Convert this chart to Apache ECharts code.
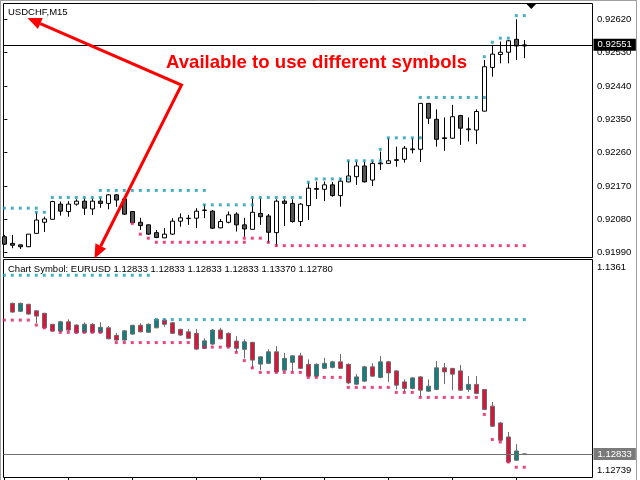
<!DOCTYPE html>
<html><head><meta charset="utf-8">
<script src="https://cdn.jsdelivr.net/npm/echarts@6/dist/echarts.min.js"></script>
<style>html,body{margin:0;padding:0;background:#fff}#c{width:640px;height:480px}</style>
</head><body><div id="c"></div>
<script>
// ---------- DATA ----------
const chfTitle = 'USDCHF,M15';
const annotationText = 'Available to use different symbols';
const eurHeader = 'Chart Symbol: EURUSD 1.12833 1.12833 1.12833 1.12833 1.13370 1.12780';

const chfOpen = [0.92033,0.92015,0.92011,0.92006,0.92042,0.92072,0.92080,0.92121,0.92101,0.92121,
0.92129,0.92108,0.92129,0.92123,0.92146,0.92135,0.92101,0.92072,0.92065,0.92044,
0.92030,0.92040,0.92075,0.92082,0.92083,0.92104,0.92102,0.92057,0.92072,0.92094,
0.92065,0.92053,0.92096,0.92089,0.92044,0.92129,0.92123,0.92074,0.92117,0.92163,
0.92161,0.92173,0.92144,0.92181,0.92195,0.92224,0.92186,0.92230,0.92231,0.92239,
0.92242,0.92268,0.92269,0.92393,0.92350,0.92300,0.92299,0.92360,0.92322,0.92321,
0.92372,0.92490,0.92525,0.92531,0.92566,0.92548];
const chfClose = [0.92013,0.92010,0.92006,0.92040,0.92078,0.92081,0.92128,0.92102,0.92121,0.92129,
0.92110,0.92129,0.92123,0.92146,0.92132,0.92094,0.92071,0.92063,0.92040,0.92031,
0.92040,0.92075,0.92084,0.92083,0.92102,0.92105,0.92056,0.92074,0.92092,0.92065,
0.92054,0.92099,0.92087,0.92045,0.92129,0.92123,0.92074,0.92121,0.92164,0.92161,
0.92173,0.92144,0.92183,0.92197,0.92224,0.92181,0.92231,0.92232,0.92238,0.92241,
0.92272,0.92270,0.92393,0.92353,0.92296,0.92298,0.92357,0.92326,0.92324,0.92371,
0.92492,0.92526,0.92531,0.92562,0.92548,0.92551];
const chfLow = [0.92011,0.92002,0.92000,0.92005,0.92041,0.92046,0.92079,0.92090,0.92087,0.92117,
0.92092,0.92092,0.92111,0.92107,0.92114,0.92092,0.92070,0.92051,0.92038,0.92029,
0.92029,0.92038,0.92060,0.92065,0.92056,0.92083,0.92054,0.92056,0.92069,0.92047,
0.92033,0.92052,0.92065,0.92016,0.92008,0.92062,0.92071,0.92062,0.92078,0.92135,
0.92129,0.92141,0.92114,0.92180,0.92173,0.92180,0.92170,0.92213,0.92230,0.92222,
0.92233,0.92258,0.92235,0.92337,0.92276,0.92265,0.92298,0.92281,0.92290,0.92283,
0.92371,0.92465,0.92501,0.92501,0.92510,0.92515];
const chfHigh = [0.92038,0.92038,0.92012,0.92040,0.92099,0.92087,0.92130,0.92128,0.92129,0.92134,
0.92137,0.92137,0.92138,0.92148,0.92148,0.92136,0.92102,0.92084,0.92066,0.92051,
0.92056,0.92083,0.92096,0.92092,0.92110,0.92121,0.92105,0.92081,0.92101,0.92099,
0.92084,0.92137,0.92137,0.92094,0.92134,0.92134,0.92134,0.92124,0.92179,0.92182,
0.92182,0.92181,0.92191,0.92238,0.92236,0.92236,0.92238,0.92263,0.92299,0.92276,
0.92278,0.92299,0.92394,0.92394,0.92377,0.92355,0.92389,0.92362,0.92355,0.92377,
0.92510,0.92551,0.92560,0.92564,0.92620,0.92564];
const chfLast = 0.92551;
// level segments: [first bar, last bar, price]
const chfHighLevels = [[0,4,0.92110],[4,5,0.92099],[6,12,0.92139],[12,25,0.92158],[25,31,0.92119],
[31,37,0.92139],[38,38,0.92180],[39,43,0.92189],[43,47,0.92238],[47,47,0.92269],[48,52,0.92300],
[52,60,0.92409],[60,60,0.92519],[61,61,0.92558],[62,63,0.92569],[64,65,0.92630]];
const chfLowLevels = [[16,16,0.92069],[17,17,0.92040],[18,18,0.92029],[19,30,0.92018],[30,32,0.92029],
[33,33,0.92018],[34,65,0.92009]];
const chfScaleTicks = [0.91990,0.92080,0.92170,0.92260,0.92350,0.92440,0.92530,0.92620];
const chfScaleMin = 0.919769, chfScaleMax = 0.9266265;

const eurFirstIndex = 1;
const eurOpen = [1.13435,1.13403,1.13431,1.13405,1.13395,1.13351,1.13324,1.13361,1.13348,1.13319,
1.13351,1.13319,1.13337,1.13307,1.13288,1.13312,1.13347,1.13319,1.13337,1.13368,
1.13357,1.13331,1.13321,1.13315,1.13255,1.13272,1.13328,1.13315,1.13284,1.13251,
1.13279,1.13192,1.13195,1.13241,1.13168,1.13199,1.13225,1.13191,1.13144,1.13175,
1.13179,1.13201,1.13191,1.13112,1.13124,1.13181,1.13139,1.13201,1.13165,1.13121,
1.13095,1.13141,1.13084,1.13091,1.13177,1.13175,1.13165,1.13091,1.13111,1.13091,
1.13024,1.12957,1.12901,1.12808,1.12833];
const eurClose = [1.13400,1.13435,1.13392,1.13384,1.13337,1.13324,1.13361,1.13328,1.13317,1.13351,
1.13319,1.13339,1.13293,1.13288,1.13325,1.13347,1.13321,1.13351,1.13371,1.13351,
1.13315,1.13308,1.13295,1.13252,1.13285,1.13328,1.13293,1.13261,1.13255,1.13281,
1.13208,1.13221,1.13241,1.13161,1.13215,1.13225,1.13175,1.13144,1.13191,1.13195,
1.13201,1.13175,1.13117,1.13141,1.13181,1.13144,1.13201,1.13157,1.13108,1.13095,
1.13137,1.13088,1.13104,1.13177,1.13161,1.13152,1.13088,1.13111,1.13075,1.13011,
1.12944,1.12888,1.12801,1.12845,1.12833];
const eurLow = [1.13397,1.13400,1.13389,1.13355,1.13335,1.13321,1.13321,1.13325,1.13315,1.13316,
1.13316,1.13315,1.13291,1.13285,1.13285,1.13309,1.13319,1.13317,1.13336,1.13341,
1.13312,1.13305,1.13292,1.13248,1.13252,1.13268,1.13291,1.13259,1.13241,1.13215,
1.13175,1.13168,1.13192,1.13157,1.13165,1.13161,1.13172,1.13141,1.13139,1.13172,
1.13175,1.13172,1.13112,1.13108,1.13121,1.13141,1.13135,1.13121,1.13091,1.13081,
1.13091,1.13061,1.13081,1.13088,1.13112,1.13088,1.13085,1.13081,1.13072,1.13008,
1.12941,1.12884,1.12797,1.12805,1.12833];
const eurHigh = [1.13437,1.13437,1.13433,1.13408,1.13397,1.13353,1.13365,1.13371,1.13351,1.13359,
1.13356,1.13359,1.13344,1.13317,1.13328,1.13349,1.13355,1.13355,1.13372,1.13375,
1.13360,1.13333,1.13332,1.13332,1.13295,1.13332,1.13337,1.13319,1.13304,1.13291,
1.13281,1.13224,1.13251,1.13264,1.13237,1.13228,1.13237,1.13211,1.13195,1.13217,
1.13205,1.13232,1.13195,1.13152,1.13185,1.13195,1.13224,1.13205,1.13168,1.13131,
1.13141,1.13144,1.13131,1.13204,1.13197,1.13176,1.13188,1.13144,1.13144,1.13092,
1.13041,1.12961,1.12921,1.12872,1.12833];
const eurLast = 1.12833;
const eurHighLevels = [[0,18,1.13547],[19,65,1.13370]];
const eurLowLevels = [[0,3,1.13368],[4,4,1.13348],[5,5,1.13337],[6,6,1.13328],[7,12,1.13319],
[14,23,1.13278],[24,28,1.13260],[29,29,1.13239],[30,30,1.13206],[31,31,1.13177],[32,37,1.13159],
[38,42,1.13139],[43,48,1.13099],[49,51,1.13079],[52,59,1.13059],[60,60,1.12991],[61,61,1.12891],
[62,62,1.12881],[63,63,1.12801],[64,65,1.12780]];
const eurScaleMin = 1.12739, eurScaleMax = 1.1361;
const eurScaleLabels = [1.12739, 1.1361];
const timeTickBars = [0,8,16,24,32,40,48,56,64];

// ---------- BUILD ----------
function expandLevels(segs){const pts=[];segs.forEach(function(s){for(let k=s[0];k<=s[1];k++)pts.push([k,s[2]]);});return pts;}
const chfData = chfOpen.map((o,i)=>[i,o,chfClose[i],chfLow[i],chfHigh[i]]);
const eurData = eurOpen.map((o,i)=>[i+eurFirstIndex,o,eurClose[i],eurLow[i],eurHigh[i]]);

const FONT = 'Liberation Sans';
const small = {fontFamily: FONT, fontSize: 9.5, color: '#000', fontWeight: 'normal'};
const TEAL = '#1a9cb0', PINK = '#e8175d';

function priceLine(value, lineColor, boxColor){
  return {silent: true, symbol: ['none','none'], animation: false, precision: 5,
    lineStyle: {color: lineColor, width: 1, type: 'solid'},
    label: {position: 'end', distance: 1, formatter: value.toFixed(5), backgroundColor: boxColor, color: '#fff',
      padding: [1,4,1,4], fontFamily: FONT, fontSize: 9.5, lineHeight: 10},
    emphasis: {disabled: true},
    data: [{yAxis: value}]};
}

function arrowHead(tip, from, len, half){
  const dx = tip[0]-from[0], dy = tip[1]-from[1], l = Math.sqrt(dx*dx+dy*dy);
  const ux = dx/l, uy = dy/l, nx = -uy, ny = ux;
  const b = [tip[0]-len*ux, tip[1]-len*uy];
  return {base: b, pts: [tip, [b[0]+half*nx, b[1]+half*ny], [b[0]-half*nx, b[1]-half*ny]]};
}
const vtx = [181.5, 85], tip1 = [27.5, 18], tip2 = [94.5, 258.5];
const h1 = arrowHead(tip1, vtx, 14, 6), h2 = arrowHead(tip2, vtx, 14, 6);

const xBase = {type:'value', min:-0.1, max:73.525};

const option = {
  animation: false,
  backgroundColor: '#ffffff',
  textStyle: {fontFamily: FONT},
  title: [
    {text: chfTitle, left: 8, top: 7, padding: 0, textStyle: small},
    {text: eurHeader, left: 8, top: 264.3, padding: 0, textStyle: small},
    {text: annotationText, left: 166, top: 53.5, padding: 0,
     textStyle: {fontFamily: FONT, fontSize: 18.6, fontWeight: 'bold', color: '#ff0000'}}
  ],
  grid: [
    {left: 3.5, top: 3.5, width: 589, height: 254, show: true, borderColor: '#000', borderWidth: 1, backgroundColor: 'transparent'},
    {left: 3.5, top: 259.5, width: 589, height: 218, show: true, borderColor: '#000', borderWidth: 1, backgroundColor: 'transparent'}
  ],
  xAxis: [
    Object.assign({gridIndex: 0, show: false}, xBase),
    Object.assign({gridIndex: 1, show: true, axisLine: {show: false}, axisLabel: {show: false}, splitLine: {show: false},
      axisTick: {show: true, length: 4, lineStyle: {color: '#000'}, customValues: timeTickBars}}, xBase)
  ],
  yAxis: [
    {gridIndex: 0, type: 'value', position: 'right', min: chfScaleMin, max: chfScaleMax,
     splitLine: {show: false}, axisLine: {show: false},
     axisTick: {show: true, length: 3, lineStyle: {color: '#000'}, customValues: chfScaleTicks},
     axisLabel: Object.assign({customValues: chfScaleTicks, margin: 4.5, formatter: v => v.toFixed(5)}, small)},
    {gridIndex: 1, type: 'value', position: 'right', min: eurScaleMin, max: eurScaleMax,
     splitLine: {show: false}, axisLine: {show: false}, axisTick: {show: false},
     axisLabel: Object.assign({customValues: eurScaleLabels, margin: 4.5,
       formatter: v => (Math.abs(v - eurScaleMax) < 1e-7 ? '{t|' : '{b|') + String(v) + '}',
       rich: {t: Object.assign({padding: [15,0,0,0]}, small), b: Object.assign({padding: [0,0,14,0]}, small)}}, small)}
  ],
  series: [
    {type: 'candlestick', name: 'USDCHF', xAxisIndex: 0, yAxisIndex: 0, data: chfData, barWidth: 5, z: 2,
     itemStyle: {color: '#ffffff', color0: '#555555', borderColor: '#000000', borderColor0: '#000000', borderColorDoji: '#000000', borderWidth: 1}},
    {type: 'scatter', name: 'chfHighLevel', xAxisIndex: 0, yAxisIndex: 0, data: expandLevels(chfHighLevels),
     symbol: 'rect', symbolSize: 3, itemStyle: {color: TEAL}, z: 3,
     markLine: priceLine(chfLast, '#000000', '#000000')},
    {type: 'scatter', name: 'chfLowLevel', xAxisIndex: 0, yAxisIndex: 0, data: expandLevels(chfLowLevels),
     symbol: 'rect', symbolSize: 3, itemStyle: {color: PINK}, z: 3},
    {type: 'candlestick', name: 'EURUSD', xAxisIndex: 1, yAxisIndex: 1, data: eurData, barWidth: 5, z: 2,
     itemStyle: {color: '#0e8080', color0: '#dc143c', borderColor: '#6b6b6b', borderColor0: '#6b6b6b', borderColorDoji: '#6b6b6b', borderWidth: 1}},
    {type: 'scatter', name: 'eurHighLevel', xAxisIndex: 1, yAxisIndex: 1, data: expandLevels(eurHighLevels),
     symbol: 'rect', symbolSize: 3, itemStyle: {color: TEAL}, z: 3,
     markLine: priceLine(eurLast, '#707070', '#7a7a7a')},
    {type: 'scatter', name: 'eurLowLevel', xAxisIndex: 1, yAxisIndex: 1, data: expandLevels(eurLowLevels),
     symbol: 'rect', symbolSize: 3, itemStyle: {color: PINK}, z: 3}
  ],
  graphic: [
    {type: 'polyline', silent: true, z: 100, shape: {points: [h1.base, vtx, h2.base]},
     style: {stroke: '#ff0000', lineWidth: 3, fill: null, lineJoin: 'miter'}},
    {type: 'polygon', silent: true, z: 100, shape: {points: h1.pts}, style: {fill: '#ff0000'}},
    {type: 'polygon', silent: true, z: 100, shape: {points: h2.pts}, style: {fill: '#ff0000'}},
    {type: 'polygon', silent: true, z: 100, shape: {points: [[526.5,4],[536,4],[531.3,9]]}, style: {fill: '#000'}},
    {type: 'line', silent: true, shape: {x1: 636.5, y1: 0, x2: 636.5, y2: 480}, style: {stroke: '#a0a0a0', lineWidth: 1}},
    {type: 'line', silent: true, shape: {x1: 0, y1: 0.5, x2: 637, y2: 0.5}, style: {stroke: '#a0a0a0', lineWidth: 1}},
    {type: 'line', silent: true, shape: {x1: 0.5, y1: 0, x2: 0.5, y2: 480}, style: {stroke: '#a0a0a0', lineWidth: 1}}
  ]
};
const chart = echarts.init(document.getElementById('c'), null, {renderer: 'canvas'});
chart.setOption(option);
</script></body></html>
